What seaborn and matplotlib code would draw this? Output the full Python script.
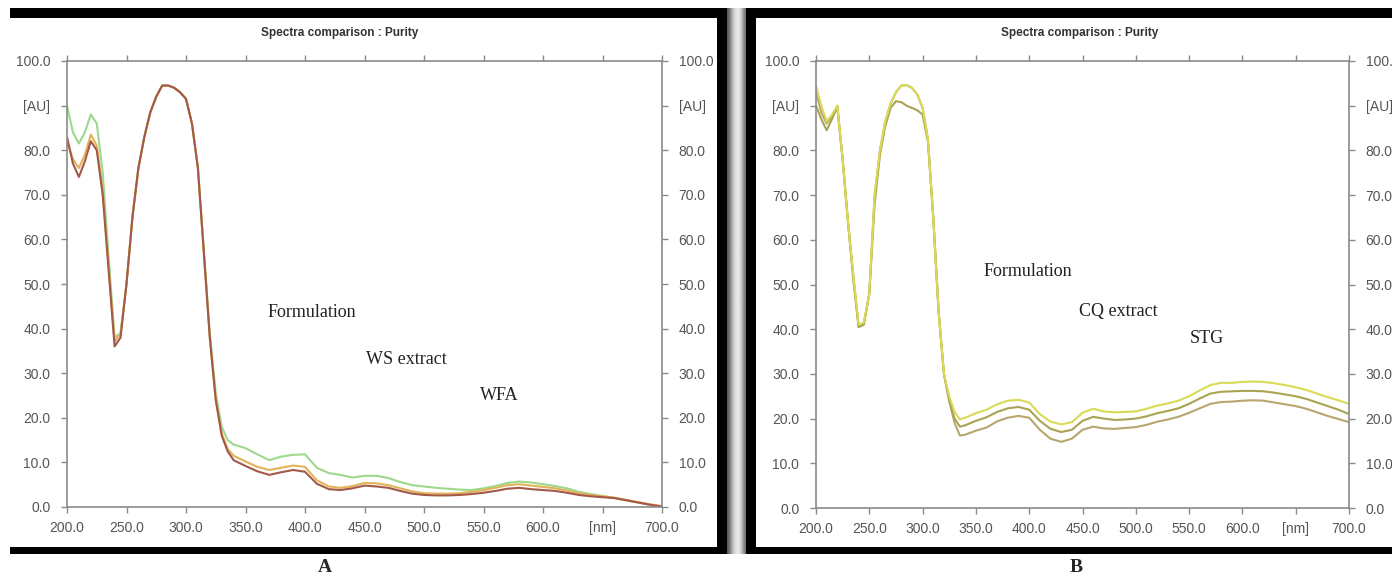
import numpy as np
import pandas as pd
import matplotlib
matplotlib.use("Agg")
import matplotlib.pyplot as plt
import seaborn as sns
from matplotlib.patches import Rectangle

# wavelengths (nm) shared by every trace
wavelength = [200, 205, 210, 215, 220, 225, 230, 235, 240, 245, 250, 255, 260, 265, 270,
              275, 280, 285, 290, 295, 300, 305, 310, 315, 320, 325, 330, 335, 340,
              350, 360, 370, 380, 390, 400, 410, 420, 430, 440, 450, 460, 470, 480, 490,
              500, 510, 520, 530, 540, 550, 560, 570, 580, 590, 600, 610, 620, 630, 640,
              650, 660, 670, 680, 690, 700]

# panel A traces [AU]
a_green = [90, 84, 81.5, 84, 88, 86, 75, 56, 38, 39, 50, 65, 76, 83, 88.5,
           92, 94.5, 94.5, 94, 93, 91.5, 86, 76, 57.5, 39, 25.5, 18, 15, 14,
           13.2, 11.8, 10.5, 11.3, 11.7, 11.8, 8.8, 7.6, 7.2, 6.6, 7.0, 7.0, 6.5, 5.6, 4.9,
           4.6, 4.3, 4.1, 3.9, 3.8, 4.2, 4.7, 5.4, 5.7, 5.5, 5.1, 4.7, 4.2, 3.4, 2.9,
           2.5, 2.0, 1.5, 1.0, 0.5, 0.1]
a_orange = [82, 78, 76, 79, 83.5, 81, 71, 54, 37, 39, 50, 65, 76, 83, 88.5,
            92, 94.5, 94.5, 94, 93, 91.5, 86, 76, 57, 38, 24, 16.5, 13, 11.5,
            10.2, 9.0, 8.3, 8.8, 9.3, 9.0, 6.0, 4.6, 4.3, 4.7, 5.4, 5.3, 4.9, 4.2, 3.5,
            3.1, 3.0, 3.0, 3.1, 3.4, 3.8, 4.3, 4.9, 5.1, 4.8, 4.5, 4.2, 3.7, 3.1, 2.7,
            2.4, 2.1, 1.6, 1.1, 0.6, 0.2]
a_red = [83, 77, 74, 77.5, 82, 80, 70, 53, 36, 38, 50, 65, 76, 83, 88.5,
         92, 94.5, 94.5, 94, 93, 91.5, 86, 76, 57, 38, 24, 16, 12.5, 10.5,
         9.2, 8.0, 7.2, 7.8, 8.3, 7.9, 5.2, 4.0, 3.8, 4.2, 4.8, 4.6, 4.3, 3.6, 3.0,
         2.7, 2.6, 2.6, 2.7, 2.9, 3.2, 3.6, 4.1, 4.3, 4.0, 3.8, 3.6, 3.2, 2.7, 2.4,
         2.2, 2.0, 1.5, 1.0, 0.5, 0.1]

# panel B traces [AU]
b_top = [94.5, 90, 86.5, 88, 90, 78, 64, 52, 41, 41.5, 48, 70, 80, 86.5, 90.5,
         93, 94.5, 94.6, 94, 92.5, 89.5, 82.5, 65, 44, 30, 25, 21.5, 19.8, 20.2,
         21.2, 22, 23.2, 24, 24.2, 23.6, 21, 19.3, 18.7, 19.2, 21.3, 22.2, 21.6, 21.4, 21.5,
         21.6, 22.2, 22.9, 23.4, 24, 25, 26.3, 27.5, 28, 28, 28.2, 28.3, 28.2, 27.9, 27.5,
         27, 26.4, 25.6, 24.8, 24.1, 23.3]
b_mid = [90, 87, 84.5, 87, 90, 78, 64, 51, 40.5, 41, 48, 68, 79, 85.5, 89.5,
         91, 90.8, 90, 89.5, 89, 88, 82, 65, 44, 30, 24, 20, 18.2, 18.5,
         19.5, 20.3, 21.5, 22.3, 22.6, 22, 19.5, 17.7, 17, 17.5, 19.5, 20.4, 20, 19.7, 19.8,
         20, 20.5, 21.2, 21.7, 22.3, 23.3, 24.5, 25.6, 26, 26.1, 26.2, 26.2, 26.1, 25.8, 25.4,
         25, 24.4, 23.6, 22.8, 22, 21]
b_low = [93, 88.5, 86, 87.5, 89.5, 78, 64, 52, 40.5, 41.5, 48, 70, 80, 86.5, 90.5,
         93, 94.5, 94.6, 94, 92.5, 89.5, 82.5, 65, 44, 30, 24, 19, 16.2, 16.4,
         17.3, 18, 19.4, 20.2, 20.6, 20.2, 17.5, 15.5, 14.8, 15.5, 17.5, 18.2, 17.8, 17.7, 17.9,
         18.1, 18.6, 19.3, 19.8, 20.4, 21.3, 22.3, 23.3, 23.7, 23.8, 24, 24.1, 24, 23.6, 23.2,
         22.8, 22.2, 21.4, 20.6, 19.9, 19.2]

x_ticks = [200, 250, 300, 350, 400, 450, 500, 550, 600, 650, 700]
x_labels = ["200.0", "250.0", "300.0", "350.0", "400.0", "450.0", "500.0", "550.0", "600.0", "[nm]", "700.0"]
y_ticks = [0, 10, 20, 30, 40, 50, 60, 70, 80, 90, 100]
y_labels = ["0.0", "10.0", "20.0", "30.0", "40.0", "50.0", "60.0", "70.0", "80.0", "[AU]", "100.0"]

a_names = ["Formulation", "WS extract", "WFA"]
a_label_pos = [(406, 43.5), (485, 33), (563, 25)]
b_names = ["Formulation", "CQ extract", "STG"]
b_label_pos = [(399, 53), (484, 44), (567, 38)]


def long_frame(traces):
    rows = []
    for name, vals in traces.items():
        for w, v in zip(wavelength, vals):
            rows.append({"nm": w, "AU": v, "trace": name})
    return pd.DataFrame(rows)


df_a = long_frame({"green": a_green, "orange": a_orange, "red": a_red})
df_b = long_frame({"top": b_top, "mid": b_mid, "low": b_low})
pal_a = {"green": "#9cd98c", "orange": "#e2b357", "red": "#a4584a"}
pal_b = {"top": "#d9da55", "mid": "#a9a352", "low": "#b7a66e"}

sns.set_style("white")
plt.rcParams["font.family"] = ["Liberation Sans Narrow", "Liberation Sans", "DejaVu Sans"]

W, H = 1392, 577
fig = plt.figure(figsize=(W / 100, H / 100), dpi=100)


def fx(px):
    return px / W


def fy(py):
    return 1 - py / H


def style_axes(ax):
    ax.set_xlim(200, 700)
    ax.set_ylim(0, 100)
    ax.set_xticks(x_ticks)
    ax.set_xticklabels(x_labels)
    ax.set_yticks(y_ticks)
    ax.set_yticklabels(y_labels)
    for s in ax.spines.values():
        s.set_color("#8a8a8a")
        s.set_linewidth(1.2)
    ax.tick_params(axis="both", direction="out", length=4, width=1, color="#8a8a8a",
                   labelsize=10, labelcolor="#555555",
                   top=True, right=True, labelright=True, left=True, bottom=True)
    ax.tick_params(axis="y", pad=8)
    ax.tick_params(axis="x", pad=6)
    ax.set_xlabel("")
    ax.set_ylabel("")
    legend = ax.get_legend()
    if legend is not None:
        legend.remove()


# panel A
ax_a = fig.add_axes([fx(67), fy(507), fx(662 - 67), (507 - 61) / H])
sns.lineplot(data=df_a, x="nm", y="AU", hue="trace", palette=pal_a, linewidth=1.5, ax=ax_a,
             hue_order=["green", "orange", "red"])
style_axes(ax_a)
for name, (xv, yv) in zip(a_names, a_label_pos):
    ax_a.text(xv, yv, name, ha="center", va="center", fontsize=13, family="Liberation Serif", color="#222222")

# panel B
ax_b = fig.add_axes([fx(816), fy(508), fx(1349 - 816), (508 - 61) / H])
sns.lineplot(data=df_b, x="nm", y="AU", hue="trace", palette=pal_b, linewidth=1.5, ax=ax_b,
             hue_order=["low", "mid", "top"])
style_axes(ax_b)
for name, (xv, yv) in zip(b_names, b_label_pos):
    ax_b.text(xv, yv, name, ha="center", va="center", fontsize=13, family="Liberation Serif", color="#222222")

# titles
fig.text(fx(340), fy(33), "Spectra comparison : Purity", ha="center", va="center",
         fontsize=8.5, color="#333333", fontweight="bold")
fig.text(fx(1080), fy(33), "Spectra comparison : Purity", ha="center", va="center",
         fontsize=8.5, color="#333333", fontweight="bold")

# black picture frames
def bar(x0, y0, x1, y1, color="black"):
    fig.patches.append(Rectangle((fx(x0), fy(y1)), fx(x1 - x0), (y1 - y0) / H,
                                 transform=fig.transFigure, facecolor=color, edgecolor="none", zorder=5))


bar(10, 8, 727, 18)
bar(717, 8, 727, 554)
bar(10, 547, 727, 554)
bar(746, 8, W, 18)
bar(746, 8, 756, 554)
bar(746, 547, W, 554)

# shadow gap between the frames
ax_sh = fig.add_axes([fx(727), fy(554), fx(746 - 727), (554 - 8) / H])
grad = np.array([[0.35, 0.55, 0.75, 0.88, 0.92, 0.88, 0.7, 0.45]])
ax_sh.imshow(grad, cmap="gray", vmin=0, vmax=1, aspect="auto", interpolation="bicubic")
ax_sh.axis("off")

# panel letters
fig.text(fx(325), fy(568), "A", ha="center", va="center", fontsize=14, fontweight="bold",
         family="Liberation Serif")
fig.text(fx(1076), fy(568), "B", ha="center", va="center", fontsize=14, fontweight="bold",
         family="Liberation Serif")

fig.savefig("out.png", dpi=100, facecolor="white")
